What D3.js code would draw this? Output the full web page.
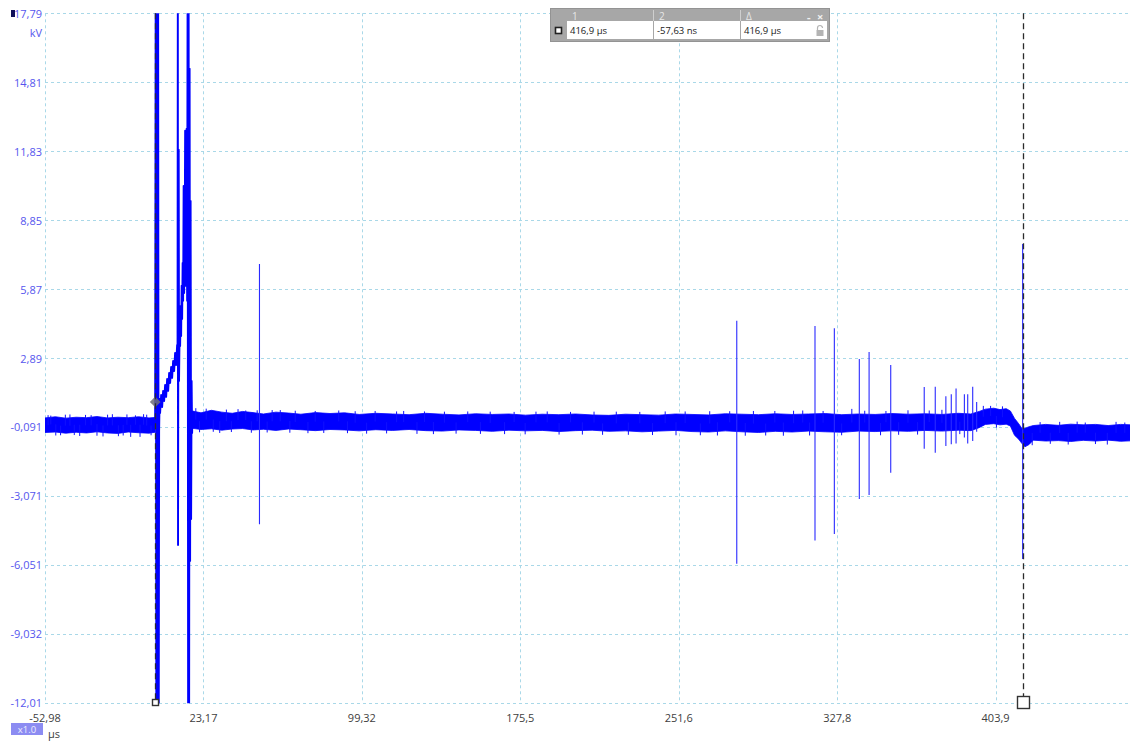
<!DOCTYPE html>
<html>
<head>
<meta charset="utf-8">
<script src="https://cdn.jsdelivr.net/npm/d3@7"></script>
<style>
  html, body { margin: 0; padding: 0; background: #fff; }
  svg { display: block; font-family: "Open Sans", "Noto Sans", sans-serif; }
</style>
</head>
<body>
<svg id="chart" width="1130" height="742"></svg>
<script>
// ---- axis ticks ----
const xTicks = [-52.98, 23.17, 99.32, 175.5, 251.6, 327.8, 403.9];
const yTicks = [17.79, 14.81, 11.83, 8.85, 5.87, 2.89, -0.091, -3.071, -6.051, -9.032, -12.01];
const xUnit = "µs";
const yUnit = "kV";
const zoomLabel = "x1.0";

// ---- noise band before the trigger (µs, kV min/max envelope) ----
const preT  = [-53, -48, -43, -38, -33, -28, -23, -18, -13, -8, -3, -0.1];
const preHi = [0.30, 0.35, 0.29, 0.33, 0.31, 0.36, 0.30, 0.33, 0.31, 0.35, 0.30, 0.32];
const preLo = [-0.33, -0.31, -0.36, -0.32, -0.35, -0.30, -0.35, -0.37, -0.31, -0.34, -0.36, -0.32];

// ---- noise band after the trigger burst ----
const postT = [17.8, 22, 27, 32, 37, 42, 47, 52, 58, 64, 70, 77, 84, 91, 98, 106, 114, 122, 130, 138,
  146, 154, 162, 170, 178, 186, 194, 202, 210, 218, 226, 234, 242, 250, 258, 266, 274, 282, 290, 298,
  306, 314, 322, 330, 338, 346, 354, 362, 370, 378, 386, 392, 396, 399, 403, 406, 409, 411, 413, 415,
  416.5, 418, 420, 422, 428, 434, 440, 446, 452, 458, 464, 469];
const postHi = [0.60, 0.52, 0.63, 0.55, 0.50, 0.58, 0.53, 0.47, 0.55, 0.51, 0.46, 0.53, 0.49, 0.52, 0.45, 0.50, 0.47, 0.44, 0.50, 0.46,
  0.43, 0.48, 0.45, 0.47, 0.42, 0.46, 0.44, 0.47, 0.43, 0.41, 0.46, 0.44, 0.42, 0.47, 0.45, 0.43, 0.48, 0.46, 0.44, 0.48,
  0.45, 0.47, 0.49, 0.44, 0.47, 0.45, 0.49, 0.46, 0.48, 0.45, 0.50, 0.47, 0.58, 0.68, 0.72, 0.66, 0.70, 0.60, 0.28, 0.05,
  -0.15, -0.15, -0.08, -0.03, 0.02, -0.02, 0.03, 0.00, 0.02, -0.03, 0.02, 0.00];
const postLo = [-0.15, -0.20, -0.17, -0.23, -0.18, -0.16, -0.22, -0.19, -0.24, -0.18, -0.21, -0.25, -0.20, -0.22, -0.26, -0.21, -0.24, -0.20, -0.25, -0.27,
  -0.22, -0.24, -0.28, -0.23, -0.26, -0.24, -0.29, -0.25, -0.23, -0.28, -0.26, -0.30, -0.27, -0.24, -0.29, -0.31, -0.26, -0.30, -0.33, -0.28,
  -0.31, -0.27, -0.30, -0.32, -0.27, -0.29, -0.26, -0.28, -0.24, -0.27, -0.23, -0.25, -0.12, 0.02, 0.05, 0.00, 0.03, -0.05, -0.45, -0.62,
  -0.80, -0.95, -0.85, -0.66, -0.70, -0.68, -0.72, -0.67, -0.70, -0.66, -0.71, -0.69];

// ---- trigger burst, sample by sample ----
const burstT = [-0.05, 0.24, 0.53, 0.82, 1.11, 1.39, 1.68, 1.87, 2.11, 2.35, 2.84, 3.32, 3.80, 4.28, 4.76, 5.24, 5.72, 6.20,
  6.68, 7.16, 7.64, 8.12, 8.60, 9.08, 9.56, 10.04, 10.52, 10.72, 10.86, 10.96, 11.10, 11.29, 11.44, 11.73, 11.97,
  12.21, 12.45, 12.69, 12.93, 13.17, 13.41, 13.65, 13.89, 14.13, 14.37, 14.61, 14.85, 15.09, 15.33, 15.57, 15.81,
  16.05, 16.29, 16.53, 16.77, 17.01, 17.25, 17.49, 17.73, 17.97];
const burstV = [0.00, 20, -14, 20, -14, 20, -14, -0.26, 1.12, 0.51, 1.29, 0.77, 1.47, 1.03, 1.73, 1.21, 1.98, 1.47,
  2.24, 1.81, 2.50, 2.03, 2.76, 2.33, 3.11, 2.59, 3.45, 2.94, 20, -5.19, 3.41, 11.89, 1.90, 4.06, 3.41,
  5.14, 3.84, 6.01, 4.58, 7.00, 5.36, 10.33, 5.70, 7.30, 12.71, 6.01, 7.73, 12.80, 5.36, 20, -14,
  20, -14, 15.39, -5.88, 9.68, -4.07, 1.90, -0.35, 0.60];

// ---- isolated discharge spikes ----
const spikeT  = [50.1, 279.5, 317.1, 326.4, 338.4, 343.1, 353.5, 369.6, 374.9, 380.0, 382.6, 384.9, 388.9, 390.5, 392.9, 394.8, 416.9];
const spikeHi = [6.95, 4.50, 4.27, 4.18, 2.85, 3.15, 2.59, 1.64, 1.65, 1.24, 1.32, 1.57, 1.32, 1.32, 1.65, 0.99, 7.82];
const spikeLo = [-4.30, -6.00, -5.00, -4.72, -3.20, -3.03, -2.07, -1.03, -1.21, -0.91, -0.84, -0.81, -0.55, -0.81, -0.70, -0.30, -5.80];

// ---- small excursions poking out of the noise band (time, tip value) ----
const burrT = [-51.5, -50.2, -47.8, -45.5, -43.2, -41, -38.9, -36.3, -33.5, -30.8, -28.0, -25.1, -22.9, -20.6,
  -17.7, -15.4, -13.6, -11.8, -9.5, -7.3, -5.6, -4.1, -2.0,
  19.5, 21.3, 24.5, 27.9, 31, 34.2, 36.6, 39.8, 43.5, 46.2, 49.0, 53.8, 56.2, 60.1, 64.7, 67.3, 73.4, 76.9,
  81.0, 88.2, 92.4, 96.1, 101.6, 105.7, 111.2, 116.0, 119.4, 125.8, 129.4, 133.7, 139.0, 144.6, 150.2, 156.3,
  161.0, 167.9, 172.5, 177.8, 183.0, 188.4, 194.1, 199.6, 205.3, 210.9, 215.0, 221.6, 227.4, 232.9, 239.0,
  245.1, 250.3, 254.7, 262.0, 266.5, 270.2, 276.1, 283.6, 287.5, 293.4, 297.8, 301.9, 306.8, 311.2, 314.5,
  321.0, 329.9, 334.8, 341.0, 348.6, 351.2, 357.3, 361.8, 366.4, 372.0, 378.1, 386.7, 398.0, 401.5, 404.3,
  407.2, 421.5, 425.3, 430.2, 434.7, 438.8, 443.1, 447.0, 451.9, 457.6, 461.8, 466.0];
const burrV = [0.42, 0.40, -0.46, -0.45, 0.44, 0.45, -0.44, -0.48, 0.43, 0.42, -0.47, -0.50, 0.44, 0.46,
  -0.49, -0.46, 0.45, -0.52, 0.41, -0.52, 0.46, 0.44, -0.45,
  0.72, -0.32, 0.70, -0.30, -0.35, 0.66, -0.31, 0.68, 0.62, -0.34, 0.63, -0.33, 0.64, 0.64, -0.34, 0.61, -0.36, 0.60,
  -0.35, 0.62, -0.36, 0.59, -0.38, 0.60, -0.37, 0.58, 0.60, -0.39, 0.58, -0.40, 0.57, -0.38, 0.58, -0.39,
  0.57, -0.40, 0.56, -0.41, 0.57, 0.58, -0.42, 0.56, -0.42, 0.57, -0.43, 0.57, -0.43, 0.56, -0.44,
  0.58, -0.45, 0.58, -0.45, 0.59, -0.46, 0.59, -0.47, 0.60, -0.46, 0.60, -0.47, 0.61, 0.62, -0.46,
  0.60, -0.45, 0.69, 0.61, -0.45, 0.60, -0.43, 0.63, -0.42, 0.62, 0.65, -0.40, 0.82, 0.82, -0.12,
  0.80, -0.88, 0.12, -0.82, 0.13, -0.85, 0.14, 0.10, -0.83, -0.85, 0.13, 0.10];

// ---- trigger point and measurement cursors ----
const triggerT = 0, triggerV = 0.99;
const cursorT = [416.9, -0.05763];          // µs
const readoutHeads = ["1", "2", "Δ"];
const readouts = ["416,9 µs", "-57,63 ns", "416,9 µs"];

// ---------------------------------------------------------------
const svg = d3.select("#chart");
const plot = { left: 45, right: 1130, top: 13.3, bottom: 702.7 };
const x = d3.scaleLinear().domain([-52.98, 468.5]).range([plot.left, plot.right]);
const y = d3.scaleLinear().domain([-12.01, 17.79]).range([plot.bottom, plot.top]);
const fmt = v => String(v).replace(".", ",");

const gridColor = "#a9d8e8";
const grid = svg.append("g").attr("stroke", gridColor).attr("stroke-width", 1)
  .attr("stroke-dasharray", "3,3").attr("fill", "none");
grid.selectAll("line.h").data(yTicks).join("line").attr("class", "h")
  .attr("x1", plot.left).attr("x2", plot.right)
  .attr("y1", d => Math.round(y(d)) + 0.5).attr("y2", d => Math.round(y(d)) + 0.5);
grid.selectAll("line.v").data(xTicks).join("line").attr("class", "v")
  .attr("y1", plot.top).attr("y2", plot.bottom)
  .attr("x1", d => Math.round(x(d)) + 0.5).attr("x2", d => Math.round(x(d)) + 0.5);

// y labels
const yLab = svg.append("g").attr("fill", "#5656ee").attr("font-size", 11).attr("text-anchor", "end");
yLab.selectAll("text").data(yTicks).join("text")
  .attr("x", 42).attr("y", d => y(d)).attr("dominant-baseline", "central").text(fmt);
yLab.append("text").attr("x", 42).attr("y", 32).attr("dominant-baseline", "central").text(yUnit);
svg.append("rect").attr("x", 11).attr("y", 10).attr("width", 4).attr("height", 7).attr("fill", "#10105a");

// x labels
const xLab = svg.append("g").attr("fill", "#404040").attr("font-size", 11).attr("text-anchor", "middle");
xLab.selectAll("text").data(xTicks).join("text")
  .attr("x", d => x(d)).attr("y", 717).attr("dominant-baseline", "central").text(fmt);
svg.append("rect").attr("x", 11).attr("y", 723).attr("width", 32).attr("height", 12).attr("fill", "#8c8cf2");
svg.append("text").attr("x", 27).attr("y", 729.5).attr("dominant-baseline", "central")
  .attr("text-anchor", "middle").attr("font-size", 9.5).attr("fill", "#eef").text(zoomLabel);
svg.append("text").attr("x", 48).attr("y", 733).attr("dominant-baseline", "central")
  .attr("font-size", 11).attr("fill", "#404040").text(xUnit);

// ---- trace ----
svg.append("clipPath").attr("id", "plotClip").append("rect")
  .attr("x", plot.left).attr("y", plot.top).attr("width", plot.right - plot.left)
  .attr("height", plot.bottom - plot.top + 0.5);
const trace = svg.append("g").attr("clip-path", "url(#plotClip)");
const blue = "#0000ff";

const band = d3.area().x(d => x(d.t)).y0(d => y(d.lo)).y1(d => y(d.hi));
const pre = preT.map((t, i) => ({ t, hi: preHi[i], lo: preLo[i] }));
const post = postT.map((t, i) => ({ t, hi: postHi[i], lo: postLo[i] }));
trace.selectAll("path.band").data([pre, post]).join("path").attr("class", "band")
  .attr("d", band).attr("fill", blue).attr("stroke", blue).attr("stroke-width", 0.8);

// each excursion starts from the middle of the band at its time
const env = pre.concat(post);
const bis = d3.bisector(d => d.t).center;
const mid = t => { const e = env[bis(env, t)]; return (e.hi + e.lo) / 2; };
trace.selectAll("line.burr").data(burrT).join("line").attr("class", "burr")
  .attr("x1", d => x(d)).attr("x2", d => x(d))
  .attr("y1", (d, i) => y(burrV[i])).attr("y2", d => y(mid(d)))
  .attr("stroke", "#1010ff").attr("stroke-width", 1);

trace.selectAll("line.spike").data(spikeT).join("line").attr("class", "spike")
  .attr("x1", d => x(d)).attr("x2", d => x(d))
  .attr("y1", (d, i) => y(spikeHi[i])).attr("y2", (d, i) => y(spikeLo[i]))
  .attr("stroke", "#2a2aff").attr("stroke-width", 1.1);

const burst = burstT.map((t, i) => ({ t, v: burstV[i] }));
trace.append("path").datum(burst)
  .attr("d", d3.line().x(d => x(d.t)).y(d => y(d.v)))
  .attr("fill", "none").attr("stroke", blue).attr("stroke-width", 1.9).attr("stroke-linejoin", "round");

// trigger marker
svg.append("rect").attr("x", -3.8).attr("y", -3.8).attr("width", 7.6).attr("height", 7.6)
  .attr("transform", `translate(${x(triggerT)},${y(triggerV)}) rotate(45)`)
  .attr("fill", "#6c6c78").attr("opacity", 0.85);

// cursors
const cur = svg.append("g");
cur.selectAll("line").data(cursorT).join("line")
  .attr("x1", d => Math.round(x(d)) + 0.5).attr("x2", d => Math.round(x(d)) + 0.5)
  .attr("y1", plot.top).attr("y2", (d, i) => i === 0 ? 696 : 699)
  .attr("stroke", "#2c2c2c").attr("stroke-width", 1.3).attr("stroke-dasharray", "6,4");
const sq = [12, 6];
cur.selectAll("rect").data(cursorT).join("rect")
  .attr("x", (d, i) => Math.round(x(d)) + 0.5 - sq[i] / 2).attr("y", (d, i) => 702.5 - sq[i] / 2)
  .attr("width", (d, i) => sq[i]).attr("height", (d, i) => sq[i])
  .attr("fill", "#fff").attr("stroke", "#333").attr("stroke-width", 1.4);

// ---- cursor readout box ----
const box = svg.append("g").attr("transform", "translate(550,8)");
box.append("rect").attr("x", 0.5).attr("y", 0.5).attr("width", 279).attr("height", 33)
  .attr("fill", "#a7a7a7").attr("stroke", "#939393");
const cellX = [17, 104, 191], cellW = 86;
box.selectAll("line.sep").data([103.5, 190.5]).join("line").attr("class", "sep")
  .attr("x1", d => d).attr("x2", d => d).attr("y1", 2).attr("y2", 13)
  .attr("stroke", "#cfcfcf").attr("stroke-width", 1);
box.selectAll("text.head").data(readoutHeads).join("text").attr("class", "head")
  .attr("x", (d, i) => cellX[i] + 5).attr("y", 8).attr("dominant-baseline", "central")
  .attr("font-size", 10).attr("fill", "#e6e6e6").text(d => d);
box.append("text").attr("x", 257).attr("y", 8).attr("dominant-baseline", "central")
  .attr("font-size", 11).attr("font-weight", "bold").attr("fill", "#f2f2f2").text("-");
box.append("text").attr("x", 267).attr("y", 8).attr("dominant-baseline", "central")
  .attr("font-size", 11).attr("font-weight", "bold").attr("fill", "#f2f2f2").text("×");
box.selectAll("rect.cell").data(cellX).join("rect").attr("class", "cell")
  .attr("x", d => d).attr("y", 13).attr("width", cellW).attr("height", 18).attr("fill", "#fff");
box.append("rect").attr("x", 5.5).attr("y", 19.5).attr("width", 6).attr("height", 6)
  .attr("fill", "#fff").attr("stroke", "#222").attr("stroke-width", 1.6);
box.selectAll("text.val").data(readouts).join("text").attr("class", "val")
  .attr("x", (d, i) => cellX[i] + 3).attr("y", 22.5).attr("dominant-baseline", "central")
  .attr("font-size", 9.5).attr("fill", "#1a1a1a").text(d => d);
// lock glyph
const lock = box.append("g").attr("transform", "translate(266,17)");
lock.append("path").attr("d", "M1.5,5 V3 a2.5,2.5 0 0 1 5,0").attr("fill", "none")
  .attr("stroke", "#b4b4b4").attr("stroke-width", 1.2);
lock.append("rect").attr("x", 0.5).attr("y", 5).attr("width", 7).attr("height", 6).attr("fill", "#b4b4b4");
</script>
</body>
</html>
